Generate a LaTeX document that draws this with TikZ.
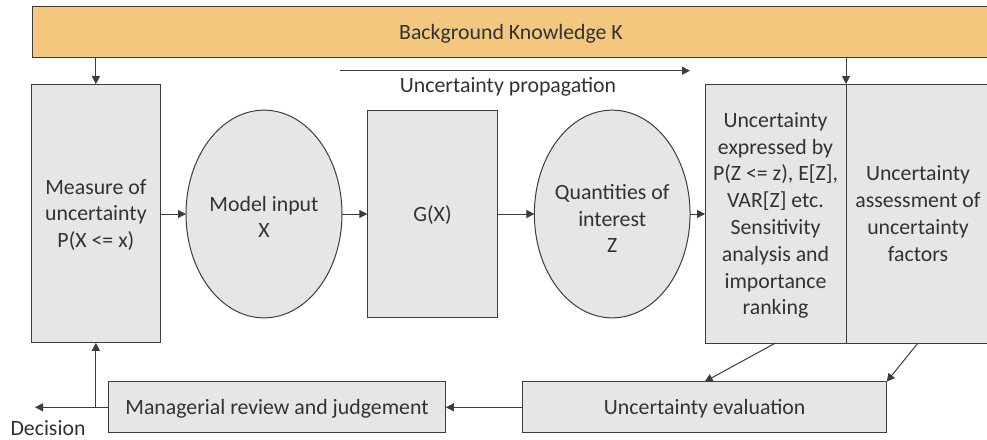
\documentclass[tikz,border=0pt]{standalone}
\usepackage{fontspec}
\setmainfont{Carlito}
\usetikzlibrary{arrows.meta,shapes.geometric}
\definecolor{barfill}{RGB}{243,200,126}
\definecolor{boxfill}{RGB}{230,230,230}
\definecolor{ink}{RGB}{60,60,60}
\definecolor{txt}{RGB}{50,50,50}
\begin{document}
\begin{tikzpicture}[x=1pt,y=-1pt,
  base/.style={inner sep=0pt, outer sep=0pt, text=txt, align=center,
    text depth=0pt, font=\fontsize{21.8}{26.8}\selectfont},
  box/.style={base, draw=ink, fill=boxfill, line width=1pt},
  bar/.style={base, draw=ink, fill=barfill, line width=1pt},
  oval/.style={box, ellipse},
  label/.style={base},
  flow/.style={draw=ink, line width=1pt, -{Triangle[length=8pt,width=8pt]}}
]
\useasboundingbox (0,0) rectangle (987,439);
\fill[white] (0,0) rectangle (987,439);
\clip (0,0) rectangle (987,439);

% top bar
\node[bar, minimum width=958pt, minimum height=51.7pt] (bk) at (511,32) {Background Knowledge K};

% main chain
\node[box, minimum width=129.7pt, minimum height=258.7pt] (meas) at (95.9,213.5)
  {Measure of\\uncertainty\\P(X <= x)};
\node[oval, minimum width=156pt, minimum height=207.7pt] (inp) at (264,214) {};
\node[label] (inptext) at ([yshift=-3pt]inp.center) {Model input\\X};
\node[box, minimum width=130.4pt, minimum height=207.7pt] (gx) at (432.5,214) {G(X)};
\node[oval, minimum width=155.7pt, minimum height=207.7pt] (qoi) at (612.2,214) {};
\node[label] (qoitext) at ([yshift=-4.5pt]qoi.center) {Quantities of\\interest\\Z};
\node[box, minimum width=141pt, minimum height=259pt] (expr) at (775.5,213.5)
  {Uncertainty\\expressed by\\P(Z <= z), E[Z],\\VAR[Z] etc.\\Sensitivity\\analysis and\\importance\\ranking};
\node[box, minimum width=144pt, minimum height=259pt] (assess) at (918,213.5)
  {Uncertainty\\assessment of\\uncertainty\\factors};

% bottom row
\node[box, minimum width=337.7pt, minimum height=51.3pt] (mgr) at (277,407.3)
  {Managerial review and judgement};
\node[box, minimum width=364pt, minimum height=51.3pt] (eval) at (704.7,407.3)
  {Uncertainty evaluation};

% propagation marker
\coordinate (pa) at (340,70.7);
\coordinate (pb) at (690,70.7);
\draw[flow] (pa) -- (pb);
\node[label] (prop) at (508,84.5) {Uncertainty propagation};

% decision output
\coordinate (dec) at (35,407.3);
\node[label] (dectext) at (48,427.5) {Decision};

% connectors
\draw[flow] (bk.south -| meas.north) -- (meas.north);
\draw[flow] (bk.south -| expr.north east) -- (expr.north east);
\draw[flow] (meas.east |- inp.west) -- (inp.west);
\draw[flow] (inp.east |- gx.west) -- (gx.west);
\draw[flow] (gx.east) -- (qoi.west |- gx.east);
\draw[flow] (qoi.east |- gx.east) -- (expr.west |- gx.east);
\draw[flow] (expr.south) -- (eval.north);
\draw[flow] (assess.south) -- (eval.north east);
\draw[flow] (eval.west) -- (mgr.east);
\draw[flow] (mgr.west) -- (dec);
\draw[flow] (meas.south |- mgr.west) -- (meas.south);
\end{tikzpicture}
\end{document}
